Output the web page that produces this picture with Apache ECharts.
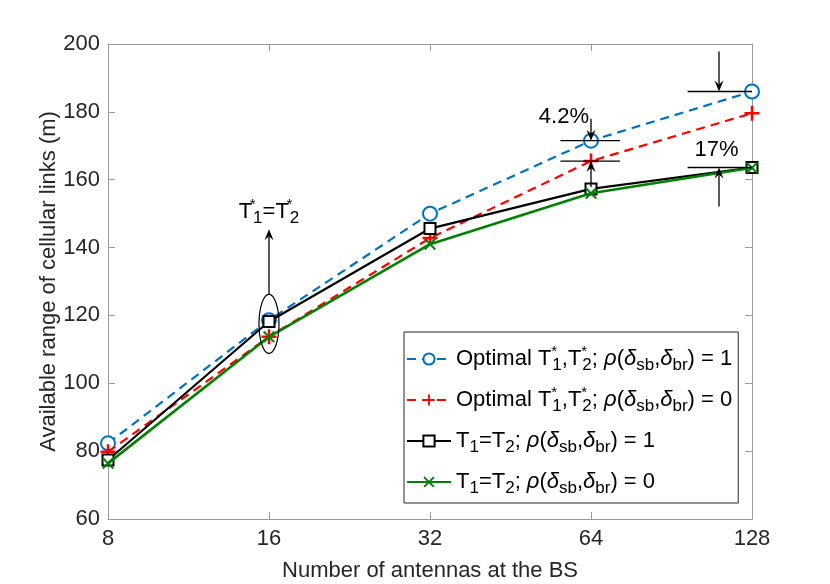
<!DOCTYPE html>
<html>
<head>
<meta charset="utf-8">
<script src="https://cdn.jsdelivr.net/npm/echarts@6/dist/echarts.min.js"></script>
<style>
  html, body { margin: 0; padding: 0; background: #fff; }
  #main { width: 830px; height: 584px; }
</style>
</head>
<body>
<div id="main"></div>
<script>
// number of BS antennas (x axis, drawn on a log2 scale)
var antennas = [8, 16, 32, 64, 128];
// available range of cellular links (m)
var optRho1 = [82.3, 118.6, 150.0, 171.5, 186.0];
var optRho0 = [79.8, 113.7, 142.8, 165.5, 179.6];
var eqRho1  = [77.4, 118.2, 145.6, 157.3, 163.6];
var eqRho0  = [76.4, 113.7, 141.0, 156.0, 163.5];
var yMin = 60, yMax = 200, yStep = 20;

var seriesNames = ['opt1', 'opt0', 'eq1', 'eq0'];
var legendLabels = {
  opt1: '{n|Optimal T}{up|*}{dn|1}{n|,T}{up|*}{dn|2}{n|; }{it|ρ}{n|(}{it|δ}{dn|sb}{n|,}{it|δ}{dn|br}{n|) = 1}',
  opt0: '{n|Optimal T}{up|*}{dn|1}{n|,T}{up|*}{dn|2}{n|; }{it|ρ}{n|(}{it|δ}{dn|sb}{n|,}{it|δ}{dn|br}{n|) = 0}',
  eq1:  '{n|T}{dn|1}{n|=T}{dn|2}{n|; }{it|ρ}{n|(}{it|δ}{dn|sb}{n|,}{it|δ}{dn|br}{n|) = 1}',
  eq0:  '{n|T}{dn|1}{n|=T}{dn|2}{n|; }{it|ρ}{n|(}{it|δ}{dn|sb}{n|,}{it|δ}{dn|br}{n|) = 0}'
};

var FONT = '"Liberation Sans", Arial, Helvetica, sans-serif';
var INK = '#262626';
var BOX = '#9a9a9a';

var rich = {
  n:  { fontSize: 22, lineHeight: 30, height: 30, fontFamily: FONT, color: '#000' },
  it: { fontSize: 22, lineHeight: 30, height: 30, fontFamily: FONT, fontStyle: 'italic', color: '#000' },
  dn: { fontSize: 17, lineHeight: 17, verticalAlign: 'bottom', fontFamily: FONT, color: '#000' },
  up: { fontSize: 15, lineHeight: 15, verticalAlign: 'top', width: 1, fontFamily: FONT, color: '#000' }
};

function pts(vals) {
  return antennas.map(function (n, i) { return [Math.log2(n), vals[i]]; });
}

var plusPath = 'path://M0,5 L12,5 L12,7 L0,7 Z M5,0 L7,0 L7,12 L5,12 Z';
var crossPath = 'path://M0,1.4 L1.4,0 L6,4.6 L10.6,0 L12,1.4 L7.4,6 L12,10.6 L10.6,12 L6,7.4 L1.4,12 L0,10.6 L4.6,6 Z';

var xMin = Math.log2(antennas[0]), xMax = Math.log2(antennas[antennas.length - 1]);

function xAx(pos, showLabels) {
  return {
    type: 'value', position: pos, min: xMin, max: xMax, interval: 1,
    name: showLabels ? 'Number of antennas at the BS' : '',
    nameLocation: 'middle', nameGap: 41, nameMoveOverlap: false,
    nameTextStyle: { fontSize: 22, fontFamily: FONT, color: INK },
    axisLine: { show: true, onZero: false, lineStyle: { color: BOX, width: 1 } },
    axisTick: { show: true, inside: true, length: 7, lineStyle: { color: BOX } },
    axisLabel: {
      show: showLabels, margin: 9, fontSize: 22, fontFamily: FONT, color: INK,
      formatter: function (v) { return String(Math.round(Math.pow(2, v))); }
    },
    splitLine: { show: false }
  };
}

function yAx(pos, showLabels) {
  return {
    type: 'value', position: pos, min: yMin, max: yMax, interval: yStep,
    name: showLabels ? 'Available range of cellular links (m)' : '',
    nameLocation: 'middle', nameGap: 48, nameRotate: 90, nameMoveOverlap: false,
    nameTextStyle: { fontSize: 22, fontFamily: FONT, color: INK },
    axisLine: { show: true, onZero: false, lineStyle: { color: BOX, width: 1 } },
    axisTick: { show: true, inside: true, length: 7, lineStyle: { color: BOX } },
    axisLabel: { show: showLabels, margin: 8, fontSize: 22, fontFamily: FONT, color: INK },
    splitLine: { show: false }
  };
}

var chart = echarts.init(document.getElementById('main'));

var option = {
  animation: false,
  backgroundColor: '#fff',
  grid: { left: 108, right: 78, top: 44, bottom: 65, outerBoundsMode: 'none' },
  xAxis: [xAx('bottom', true), xAx('top', false)],
  yAxis: [yAx('left', true), yAx('right', false)],
  legend: {
    orient: 'vertical',
    left: 404, top: 332,
    padding: [12, 6, 6, 2],
    itemGap: 11,
    itemWidth: 44, itemHeight: 14,
    backgroundColor: '#fff',
    borderColor: INK, borderWidth: 1,
    selectedMode: false,
    data: seriesNames,
    formatter: function (name) { return legendLabels[name]; },
    textStyle: { fontSize: 22, lineHeight: 30, height: 30, fontFamily: FONT, color: '#000', rich: rich }
  },
  series: [
    {
      name: 'opt1', type: 'line', data: pts(optRho1), z: 2,
      color: '#0072BD',
      symbol: 'emptyCircle', symbolSize: 14,
      lineStyle: { width: 2.2, type: [9, 6] },
      itemStyle: { borderWidth: 2.4 }
    },
    {
      name: 'opt0', type: 'line', data: pts(optRho0), z: 3,
      color: '#FF0000',
      symbol: plusPath, symbolSize: 15,
      lineStyle: { width: 2.2, type: [9, 6] },
      itemStyle: { borderWidth: 0 }
    },
    {
      name: 'eq1', type: 'line', data: pts(eqRho1), z: 4,
      color: '#000000',
      symbol: 'emptyRect', symbolSize: 11,
      lineStyle: { width: 2.2 },
      itemStyle: { borderWidth: 2.2 }
    },
    {
      name: 'eq0', type: 'line', data: pts(eqRho0), z: 5,
      color: '#008000',
      symbol: crossPath, symbolSize: 12,
      lineStyle: { width: 2.6 },
      itemStyle: { borderWidth: 0 }
    }
  ]
};

chart.setOption(option);

// annotations, placed from data coordinates
function px(x, y) { return chart.convertToPixel({ gridIndex: 0 }, [x, y]); }

function arrow(x, yTail, yTip) {
  var dir = yTip > yTail ? 1 : -1;
  var L = 11, W = 4.5, notch = 7;
  return [
    { type: 'line', z: 50, shape: { x1: x, y1: yTail, x2: x, y2: yTip - dir * notch },
      style: { stroke: '#000', lineWidth: 1.3 } },
    { type: 'polygon', z: 50,
      shape: { points: [[x, yTip], [x - W, yTip - dir * L], [x, yTip - dir * notch], [x + W, yTip - dir * L]] },
      style: { fill: '#000' } }
  ];
}

function hline(x0, x1, y) {
  var a = px(x0, y), b = px(x1, y);
  return { type: 'line', z: 50, shape: { x1: a[0], y1: a[1], x2: b[0], y2: b[1] },
    style: { stroke: '#000', lineWidth: 1.3 } };
}

function label(text, x, y, align, richStyle) {
  return { type: 'text', z: 60, x: x, y: y,
    style: { text: text, fill: '#000', font: '22px ' + FONT, align: align, verticalAlign: 'middle', rich: richStyle } };
}

var g = [];

// ellipse around the 16-antenna points with arrow to the note
var eC = px(4, 117.5);
g.push({ type: 'ellipse', z: 50, shape: { cx: eC[0], cy: eC[1], rx: 10, ry: 29.5 },
  style: { fill: 'none', stroke: '#000', lineWidth: 1.2 } });
var tip16 = px(4, 145.4);
g = g.concat(arrow(eC[0], eC[1] - 29.5, tip16[1]));
g.push(label('{n|T}{up|*}{dn|1}{n|=T}{up|*}{dn|2}', tip16[0], tip16[1] - 17, 'center', rich));

// gap at 64 antennas
var a64 = px(6, optRho1[3]), b64 = px(6, optRho0[3]);
g.push(hline(5.81, 6.18, optRho1[3]));
g.push(hline(5.81, 6.18, optRho0[3]));
g = g.concat(arrow(a64[0], a64[1] - 22, a64[1]));
g = g.concat(arrow(b64[0], b64[1] + 26, b64[1]));
g.push(label('4.2%', a64[0] - 2, a64[1] - 24, 'right'));

// gap at 128 antennas
var a128 = px(6.795, optRho1[4]), b128 = px(6.795, eqRho1[4]);
g.push(hline(6.6, 7, optRho1[4]));
g.push(hline(6.6, 7, eqRho1[4]));
g = g.concat(arrow(a128[0], a128[1] - 40, a128[1]));
g = g.concat(arrow(b128[0], b128[1] + 39, b128[1]));
g.push(label('17%', px(6.78, 0)[0], b128[1] - 18, 'center'));

chart.setOption({ graphic: g });
</script>
</body>
</html>
